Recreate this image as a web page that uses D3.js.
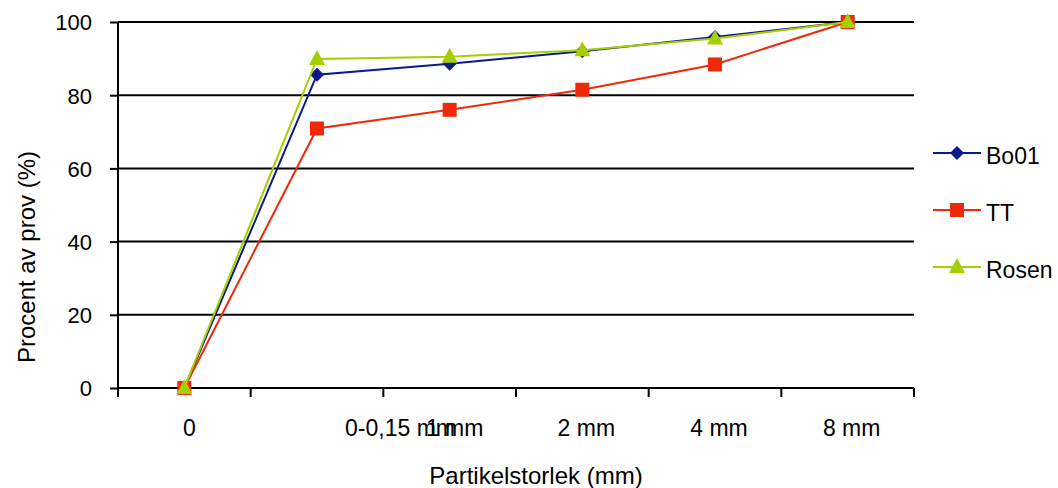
<!DOCTYPE html>
<html>
<head>
<meta charset="utf-8">
<script src="https://cdn.jsdelivr.net/npm/d3@7"></script>
<style>
  html, body { margin: 0; padding: 0; background: #fff; }
  svg { display: block; font-family: "Liberation Sans", Arial, sans-serif; }
</style>
</head>
<body>
<svg id="chart" width="1058" height="488"></svg>
<script>
// Particle size categories and cumulative share of sample (%)
const categories = ["0", "0-0,15 mm", "1 mm", "2 mm", "4 mm", "8 mm"];
const bo01  = [0, 85.6, 88.6, 92.0, 95.9, 100];
const tt    = [0, 70.9, 76.0, 81.5, 88.4, 100];
const rosen = [0, 89.9, 90.5, 92.3, 95.5, 100];
const yTicks = [0, 20, 40, 60, 80, 100];
const seriesNames = ["Bo01", "TT", "Rosen"];

const series = [
  { name: seriesNames[0], values: bo01,  color: "#0a1a8c", marker: "diamond" },
  { name: seriesNames[1], values: tt,    color: "#ee2a0a", marker: "square" },
  { name: seriesNames[2], values: rosen, color: "#a6cf00", marker: "triangle" }
];

const svg = d3.select("#chart");
const plot = { left: 118, right: 914, top: 22, bottom: 388 };
const fontSize = 23;

const x = d3.scaleBand().domain(categories).range([plot.left, plot.right]);
const y = d3.scaleLinear().domain([0, 100]).range([plot.bottom, plot.top]);
const cx = c => x(c) + x.bandwidth() / 2;

// horizontal gridlines
svg.append("g").selectAll("line").data(yTicks).join("line")
  .attr("x1", plot.left).attr("x2", plot.right)
  .attr("y1", d => y(d)).attr("y2", d => y(d))
  .attr("stroke", "#000").attr("stroke-width", 2);

// y axis with outer tick marks
const yAxis = svg.append("g").attr("transform", `translate(${plot.left},0)`)
  .call(d3.axisLeft(y).tickValues(yTicks).tickSize(8).tickPadding(0).tickFormat(d3.format("d")));
yAxis.select(".domain").attr("stroke", "#000").attr("stroke-width", 2).attr("d", `M0,${plot.top}V${plot.bottom}`);
yAxis.selectAll(".tick line").attr("stroke", "#000").attr("stroke-width", 2);
yAxis.selectAll(".tick text")
  .attr("x", -26).attr("dy", "0.36em")
  .attr("font-size", 22).attr("font-family", "Liberation Sans, Arial, sans-serif").attr("fill", "#000");

// x axis: ticks at category boundaries
const xg = svg.append("g");
xg.append("line")
  .attr("x1", plot.left).attr("x2", plot.right)
  .attr("y1", plot.bottom).attr("y2", plot.bottom)
  .attr("stroke", "#000").attr("stroke-width", 2);
const bounds = categories.map(c => x(c)).concat([x(categories[categories.length - 1]) + x.bandwidth()]);
xg.selectAll("line.tick").data(bounds).join("line").attr("class", "tick")
  .attr("x1", d => d).attr("x2", d => d)
  .attr("y1", plot.bottom).attr("y2", plot.bottom + 9)
  .attr("stroke", "#000").attr("stroke-width", 2);

// category labels (the second and third labels run into each other)
const labelNudge = [5, 83, 5, 4, 4, 4];
xg.selectAll("text").data(categories).join("text")
  .attr("x", (d, i) => cx(d) + labelNudge[i])
  .attr("y", 436)
  .attr("text-anchor", "middle")
  .attr("font-size", fontSize)
  .attr("fill", "#000")
  .text(d => d);

// axis titles
svg.append("text")
  .attr("x", 536).attr("y", 484)
  .attr("text-anchor", "middle").attr("font-size", 24)
  .text("Partikelstorlek (mm)");
svg.append("text")
  .attr("transform", "translate(35,257) rotate(-90)")
  .attr("text-anchor", "middle").attr("font-size", 24)
  .text("Procent av prov (%)");

// marker shapes
function markerPath(kind) {
  if (kind === "diamond") return "M0,-7L7,0L0,7L-7,0Z";
  if (kind === "square") return "M-7,-7H7V7H-7Z";
  return "M0,-9L8,6H-8Z";
}

const line = d3.line().x((d, i) => cx(categories[i])).y(d => y(d));

series.forEach(s => {
  const g = svg.append("g");
  g.append("path").datum(s.values)
    .attr("d", line)
    .attr("fill", "none").attr("stroke", s.color).attr("stroke-width", 2);
  g.selectAll("path.m").data(s.values).join("path").attr("class", "m")
    .attr("transform", (d, i) => `translate(${cx(categories[i])},${y(d)})`)
    .attr("d", markerPath(s.marker))
    .attr("fill", s.color);
});

// legend
const legend = svg.append("g");
const legendRows = d3.scaleOrdinal().domain(seriesNames).range([153, 210, 267]);
series.forEach(s => {
  const ly = legendRows(s.name);
  legend.append("line")
    .attr("x1", 933).attr("x2", 981).attr("y1", ly).attr("y2", ly)
    .attr("stroke", s.color).attr("stroke-width", 2);
  legend.append("path")
    .attr("transform", `translate(957,${ly})`)
    .attr("d", markerPath(s.marker)).attr("fill", s.color);
  legend.append("text")
    .attr("x", 986).attr("y", ly + 11)
    .attr("font-size", fontSize).text(s.name);
});
</script>
</body>
</html>
